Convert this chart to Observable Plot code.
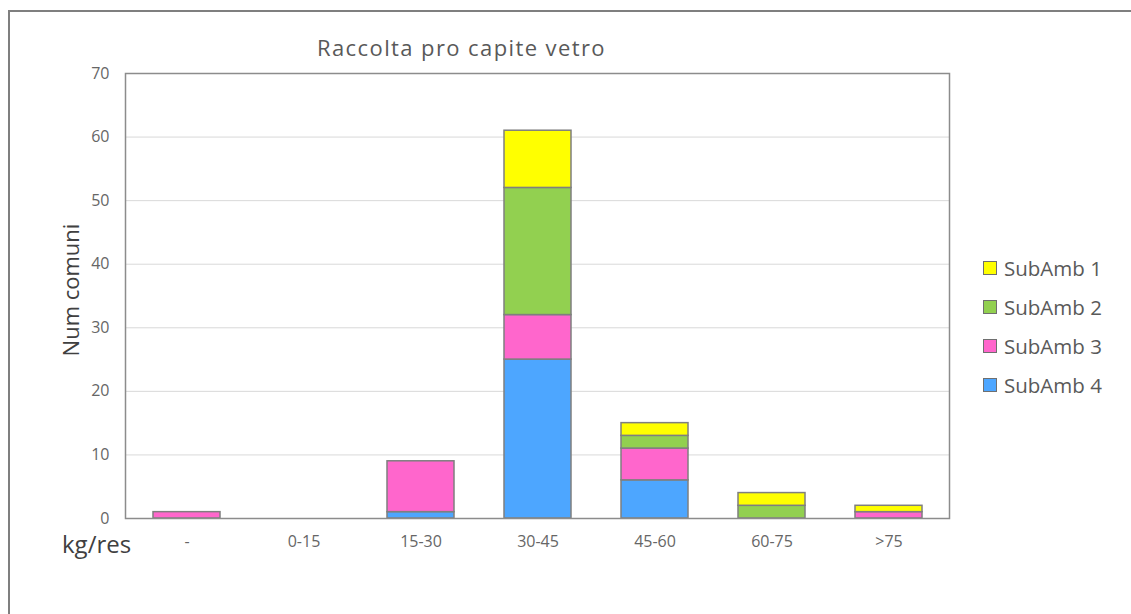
<!DOCTYPE html>
<html><head><meta charset="utf-8">
<script src="https://cdn.jsdelivr.net/npm/d3@7"></script>
<script src="https://cdn.jsdelivr.net/npm/@observablehq/plot@0.6"></script>
<style>
body{margin:0;background:#fff;font-family:"Open Sans",Lato,sans-serif;}
#wrap{position:relative;width:1131px;height:614px;overflow:hidden;}
#border{position:absolute;left:8px;top:10px;width:1140px;height:620px;border:2px solid #7f7f7f;box-sizing:border-box;}
#title{position:absolute;left:0;width:923px;top:32px;line-height:30px;text-align:center;font-size:22px;letter-spacing:1.4px;color:#595959;}
#xlab{position:absolute;left:62px;top:528px;line-height:32px;font-size:24px;color:#404040;}
#legend{position:absolute;left:983px;top:248px;font-size:20.5px;color:#595959;}
#legend div{height:39px;display:flex;align-items:center;}
#legend span.sw{display:inline-block;width:14px;height:14px;border:1.5px solid #6f6f6f;box-sizing:border-box;margin-right:7px;}
</style></head>
<body><div id="wrap"><div id="border"></div><div id="chart"></div>
<div id="title">Raccolta pro capite vetro</div>
<div id="xlab">kg/res</div>
<div id="legend"></div></div>
<script>
const categories = ["-", "0-15", "15-30", "30-45", "45-60", "60-75", ">75"];
const seriesNames = ["SubAmb 1", "SubAmb 2", "SubAmb 3", "SubAmb 4"];
const seriesColors = ["#ffff00", "#92d050", "#ff66cc", "#4da6ff"];
const sub1 = [0, 0, 0, 9, 2, 2, 1];
const sub2 = [0, 0, 0, 20, 2, 2, 0];
const sub3 = [1, 0, 8, 7, 5, 0, 1];
const sub4 = [0, 0, 1, 25, 6, 0, 0];
const yTicks = [0, 10, 20, 30, 40, 50, 60, 70];

const seriesVals = [sub1, sub2, sub3, sub4];
const rows = [];
// bottom-up stacking order: SubAmb 4, 3, 2, 1
for (let s = 3; s >= 0; s--) {
  categories.forEach((c, i) => {
    if (seriesVals[s][i] > 0) rows.push({cat: c, series: seriesNames[s], value: seriesVals[s][i]});
  });
}

const chart = Plot.plot({
  width: 1131, height: 614,
  marginLeft: 125, marginRight: 182, marginTop: 73, marginBottom: 96,
  style: {fontFamily: "'Open Sans', Lato, sans-serif", fontSize: "16px", color: "#666666", background: "transparent"},
  x: {domain: categories, paddingInner: 0.43, paddingOuter: 0.215, label: null, tickSize: 0, tickPadding: 20},
  y: {domain: [0, 70], ticks: yTicks, label: null, tickSize: 0, tickPadding: 17},
  color: {domain: seriesNames, range: seriesColors},
  marks: [
    Plot.gridY(yTicks, {stroke: "#d9d9d9", strokeOpacity: 1, strokeWidth: 1}),
    Plot.barY(rows, Plot.stackY({x: "cat", y: "value", z: "series", fill: "series", order: null, stroke: "#7f7f7f", strokeWidth: 1.5})),
    Plot.frame({stroke: "#8c8c8c", strokeWidth: 1.5}),
    Plot.axisY(yTicks, {tickSize: 0, tickPadding: 16, label: null, fontSize: 16}),
    Plot.axisX({tickSize: 0, tickPadding: 17, label: null, fontSize: 16}),
    Plot.text(["Num comuni"], {frameAnchor: "left", dx: -54, dy: -6, rotate: -90, fontSize: 22, fill: "#404040", textAnchor: "middle"})
  ]
});
document.getElementById("chart").appendChild(chart);

const leg = document.getElementById("legend");
seriesNames.forEach((n, i) => {
  const d = document.createElement("div");
  d.innerHTML = `<span class="sw" style="background:${seriesColors[i]}"></span>${n}`;
  leg.appendChild(d);
});
</script></body></html>
